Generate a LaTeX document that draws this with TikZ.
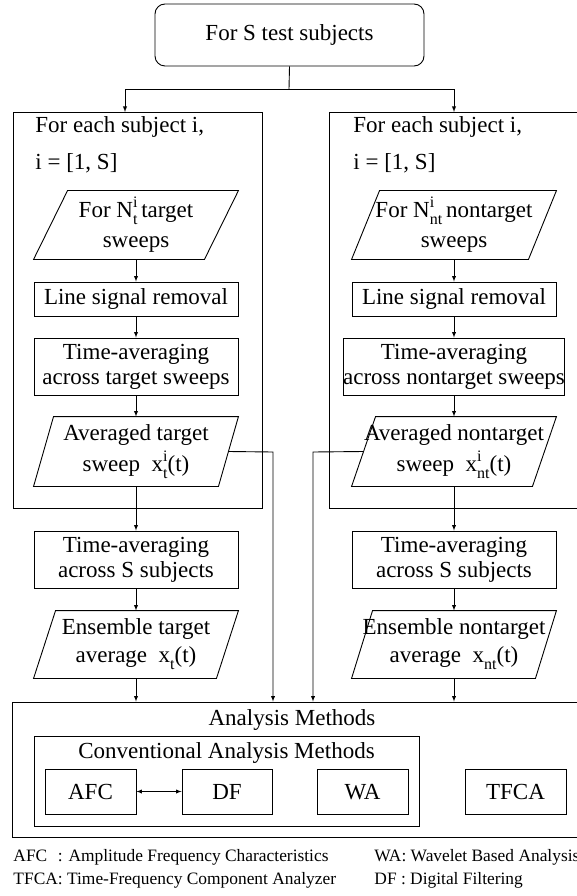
\documentclass[tikz,border=0pt]{standalone}
\usepackage{fontspec}
\setmainfont{Liberation Serif}
% index pair set above and below, as in N^i_t
\newcommand{\supsub}[2]{{\fontsize{16}{16}\selectfont\rlap{\raisebox{10pt}{#1}}\raisebox{-7pt}{#2}}}
\begin{document}
\begin{tikzpicture}[
   x=1pt,y=-1pt,
   font=\fontsize{23}{25}\selectfont,
   line width=0.9pt,
   >=latex,
   block/.style={draw,inner sep=0pt,minimum width=204pt,align=center},
   io/.style={inner sep=0pt,minimum width=204pt,align=center},
   loopbox/.style={draw,inner sep=0pt,minimum height=396pt},
   caption/.style={anchor=base west,inner sep=0pt},
   method/.style={draw,inner sep=0pt,minimum height=45pt,text height=15pt,text depth=0pt},
   to/.style={->},
   legend/.style={anchor=base west,inner sep=0pt,font=\fontsize{17.4}{20}\selectfont}]
\useasboundingbox (0,0) rectangle (577,896);
\node[draw,rounded corners=10pt,inner sep=0pt,minimum width=269pt,minimum height=62pt] (subjects) at (289.5,35) {For S test subjects};
\coordinate (split) at (289,89);
\coordinate (lin) at (125,112);
\coordinate (rin) at (454,112);
\node[loopbox,minimum width=249pt] (lloop) at (137.5,310) {};
\node[loopbox,minimum width=251pt] (rloop) at (454.5,310) {};
\node[caption] (lsubj) at (35,133) {For each subject i,};
\node[caption] (lrange) at (35,170) {i = [1, S]};
\node[caption] (rsubj) at (353,133) {For each subject i,};
\node[caption] (rrange) at (353,170) {i = [1, S]};
% target column
\node[io,minimum height=68pt] (lsweeps) at (136,225) {For N\supsub{i}{t}\,target\\[5pt]sweeps};
\node[block,minimum height=34pt] (lline) at (136,299) {Line signal removal};
\node[block,minimum height=57pt] (ltavg) at (136,366.5) {Time-averaging\\across target sweeps};
\node[io,minimum height=69pt] (lavg) at (136,451.5) {Averaged target\\[5pt]sweep\ \ x\supsub{i}{t}(t)};
\node[block,minimum height=57pt] (lsavg) at (136,559.5) {Time-averaging\\across S subjects};
\node[io,minimum height=67pt] (lens) at (136,644.5) {Ensemble target\\[3pt]average\ \ x\supsub{}{t}(t)};
% nontarget column
\node[io,minimum height=68pt] (rsweeps) at (454,225) {For N\supsub{i}{nt}\,nontarget\\[5pt]sweeps};
\node[block,minimum height=34pt] (rline) at (454,299) {Line signal removal};
\node[block,minimum height=57pt] (rtavg) at (454,366.5) {Time-averaging\\across nontarget sweeps};
\node[io,minimum height=69pt] (ravg) at (454,451.5) {Averaged nontarget\\[5pt]sweep\ \ x\supsub{i}{nt}(t)};
\node[block,minimum height=57pt] (rsavg) at (454,559.5) {Time-averaging\\across S subjects};
\node[io,minimum height=67pt] (rens) at (454,644.5) {Ensemble nontarget\\[3pt]average\ \ x\supsub{}{nt}(t)};
\draw ([xshift=34pt]lsweeps.north west) -- (lsweeps.north east) -- ([xshift=-34pt]lsweeps.south east) -- (lsweeps.south west) -- cycle;
\draw ([xshift=20pt]lavg.north west) -- (lavg.north east) -- ([xshift=-20pt]lavg.south east) -- (lavg.south west) -- cycle;
\draw ([xshift=22pt]lens.north west) -- (lens.north east) -- ([xshift=-22pt]lens.south east) -- (lens.south west) -- cycle;
\draw ([xshift=28pt]rsweeps.north west) -- (rsweeps.north east) -- ([xshift=-28pt]rsweeps.south east) -- (rsweeps.south west) -- cycle;
\draw ([xshift=24pt]ravg.north west) -- (ravg.north east) -- ([xshift=-24pt]ravg.south east) -- (ravg.south west) -- cycle;
\draw ([xshift=21pt]rens.north west) -- (rens.north east) -- ([xshift=-21pt]rens.south east) -- (rens.south west) -- cycle;
% analysis block
\node[draw,inner sep=0pt,minimum width=568pt,minimum height=135pt] (analysis) at (296,769.5) {};
\node[anchor=base,inner sep=0pt] (atitle) at (292,725) {Analysis Methods};
\node[draw,inner sep=0pt,minimum width=385pt,minimum height=90pt] (conv) at (226.5,781) {};
\node[anchor=base,inner sep=0pt] (ctitle) at (226.5,758) {Conventional Analysis Methods};
\node[method,minimum width=91pt] (afc) at (90.5,791.5) {AFC};
\node[method,minimum width=90pt] (df) at (227,791.5) {DF};
\node[method,minimum width=91pt] (wa) at (362.5,791.5) {WA};
\node[method,minimum width=101pt] (tfca) at (515.5,791.5) {TFCA};
\coordinate (ltap) at (273,452);
\coordinate (rtap) at (313,452);
\draw (subjects.south) -- (split);
\draw[to] (split) -| (lin);
\draw[to] (split) -| (rin);
\draw[to] (lsweeps) -- (lline);
\draw[to] (lline) -- (ltavg);
\draw[to] (ltavg) -- (lavg);
\draw[to] (lavg) -- (lsavg);
\draw[to] (lsavg) -- (lens);
\draw[to] (lens.south) -- (lens.south |- analysis.north);
\draw[to] (rsweeps) -- (rline);
\draw[to] (rline) -- (rtavg);
\draw[to] (rtavg) -- (ravg);
\draw[to] (ravg) -- (rsavg);
\draw[to] (rsavg) -- (rens);
\draw[to] (rens.south) -- (rens.south |- analysis.north);
\draw[to] ([xshift=-10pt]lavg.east) -- (ltap) -- (ltap |- analysis.north);
\draw[to] ([xshift=12pt]ravg.west) -- (rtap) -- (rtap |- analysis.north);
\draw[<->] (afc) -- (df);
% abbreviations
\node[legend] (lgafc) at (13,861) {\rlap{AFC}\phantom{TFCA}: Amplitude Frequency Characteristics};
\node[legend] (lgtfca) at (13,884) {TFCA: Time-Frequency Component Analyzer};
\node[legend] (lgwa) at (374,861) {WA: Wavelet Based Analysis};
\node[legend] (lgdf) at (374,884) {DF : Digital Filtering};
\end{tikzpicture}
\end{document}
